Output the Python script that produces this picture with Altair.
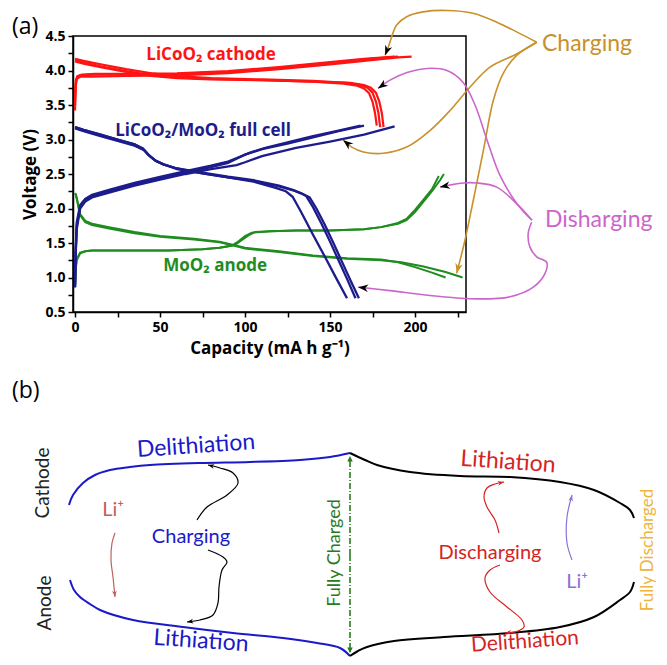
import math
import altair as alt
import pandas as pd

# ---------------- Panel (a): charge / discharge curves ----------------
# LiCoO2 cathode (red)
red_chg1_x = [0, 0.3, 1, 3, 10, 30, 60, 90, 120, 150, 170, 190, 198]
red_chg1_v = [3.42, 3.75, 3.88, 3.91, 3.91, 3.92, 3.93, 3.96, 4.02, 4.09, 4.14, 4.19, 4.20]
red_chg2_x = [0, 0.3, 1.2, 3, 10, 30, 60, 90, 120, 150, 170, 190]
red_chg2_v = [3.50, 3.80, 3.91, 3.93, 3.94, 3.94, 3.95, 3.98, 4.04, 4.11, 4.16, 4.20]
red_chg3_x = [0, 0.5, 1.5, 4, 12, 30, 60, 90, 120, 150, 170, 188]
red_chg3_v = [3.60, 3.86, 3.92, 3.94, 3.95, 3.95, 3.96, 3.99, 4.05, 4.12, 4.17, 4.20]
red_dis1_x = [0, 5, 15, 30, 45, 60, 80, 110, 140, 160, 168, 172, 175, 177, 178.5, 179.5]
red_dis1_v = [4.17, 4.14, 4.09, 4.02, 3.96, 3.92, 3.89, 3.87, 3.85, 3.82, 3.79, 3.75, 3.68, 3.55, 3.38, 3.18]
red_dis2_x = [0, 5, 15, 30, 45, 60, 80, 110, 140, 158, 166, 170, 173, 175, 176.5, 177.5]
red_dis2_v = [4.15, 4.12, 4.06, 3.99, 3.93, 3.90, 3.88, 3.86, 3.84, 3.81, 3.78, 3.74, 3.67, 3.55, 3.38, 3.20]
red_dis3_x = [0, 5, 15, 30, 45, 60, 80, 110, 140, 162, 170, 174, 177, 179, 180.5, 181.5]
red_dis3_v = [4.13, 4.10, 4.05, 3.98, 3.92, 3.89, 3.87, 3.86, 3.84, 3.82, 3.79, 3.75, 3.68, 3.55, 3.38, 3.18]

# LiCoO2/MoO2 full cell (navy)
blue_chg1_x = [0, 0.3, 1, 3, 6, 10, 20, 35, 50, 65, 80, 90, 95, 100, 110, 125, 140, 155, 170]
blue_chg1_v = [0.86, 1.30, 1.75, 2.02, 2.12, 2.18, 2.25, 2.35, 2.44, 2.52, 2.60, 2.66, 2.72, 2.78, 2.86, 2.94, 3.03, 3.12, 3.20]
blue_chg2_x = [0, 0.3, 1, 3, 6, 10, 20, 35, 50, 65, 80, 90, 97, 103, 112, 125, 140, 155, 168]
blue_chg2_v = [0.90, 1.35, 1.80, 2.05, 2.14, 2.20, 2.27, 2.37, 2.46, 2.54, 2.62, 2.68, 2.75, 2.81, 2.88, 2.96, 3.05, 3.13, 3.20]
blue_chg3_x = [0, 0.3, 1, 3, 6, 10, 20, 35, 50, 65, 80, 95, 100, 110, 130, 150, 170, 188]
blue_chg3_v = [0.86, 1.30, 1.70, 2.00, 2.10, 2.16, 2.23, 2.33, 2.42, 2.50, 2.57, 2.63, 2.67, 2.76, 2.88, 2.97, 3.07, 3.19]
blue_dis1_x = [0, 5, 15, 25, 35, 40, 43, 47, 52, 60, 75, 90, 105, 120, 128, 133, 136, 140, 145, 150, 155, 160, 165]
blue_dis1_v = [3.18, 3.14, 3.07, 3.00, 2.93, 2.87, 2.78, 2.70, 2.64, 2.58, 2.52, 2.46, 2.41, 2.33, 2.27, 2.22, 2.18, 2.02, 1.78, 1.52, 1.25, 0.98, 0.70]
blue_dis2_x = [0, 5, 15, 25, 35, 41, 44, 48, 53, 60, 75, 90, 105, 120, 129, 134, 138, 142, 147, 152, 157, 162, 167]
blue_dis2_v = [3.16, 3.12, 3.05, 2.98, 2.91, 2.84, 2.76, 2.68, 2.63, 2.57, 2.51, 2.45, 2.40, 2.32, 2.26, 2.21, 2.16, 2.00, 1.76, 1.50, 1.23, 0.96, 0.70]
blue_dis3_x = [0, 5, 15, 25, 35, 40, 43, 47, 52, 60, 75, 90, 105, 118, 124, 128, 133, 140, 147, 153, 160]
blue_dis3_v = [3.18, 3.14, 3.07, 3.00, 2.93, 2.86, 2.78, 2.70, 2.64, 2.58, 2.51, 2.45, 2.39, 2.30, 2.25, 2.17, 1.95, 1.62, 1.30, 1.02, 0.70]

# MoO2 anode (green)
green_lit1_x = [0, 0.5, 1.5, 3, 6, 10, 20, 35, 50, 70, 85, 92, 100, 120, 140, 160, 180, 190, 200, 210, 218]
green_lit1_v = [2.22, 2.20, 2.10, 1.92, 1.82, 1.78, 1.73, 1.66, 1.60, 1.56, 1.52, 1.48, 1.43, 1.38, 1.32, 1.28, 1.26, 1.22, 1.15, 1.07, 1.00]
green_lit2_x = [0, 0.5, 1.5, 3, 6, 10, 20, 35, 50, 70, 85, 92, 100, 120, 140, 160, 180, 192, 205, 218, 228]
green_lit2_v = [2.22, 2.20, 2.08, 1.90, 1.80, 1.76, 1.71, 1.64, 1.59, 1.55, 1.51, 1.47, 1.42, 1.37, 1.31, 1.27, 1.25, 1.22, 1.16, 1.08, 1.00]
green_del1_x = [0, 0.3, 1, 3, 6, 10, 30, 55, 75, 85, 92, 96, 100, 104, 115, 130, 150, 170, 180, 190, 195, 200, 205, 210, 215, 217]
green_del1_v = [0.86, 1.10, 1.25, 1.35, 1.38, 1.39, 1.39, 1.39, 1.41, 1.43, 1.46, 1.52, 1.60, 1.65, 1.67, 1.68, 1.68, 1.70, 1.73, 1.78, 1.83, 1.95, 2.10, 2.25, 2.42, 2.50]
green_del2_x = [0, 0.3, 1, 3, 6, 10, 30, 55, 75, 85, 94, 98, 102, 106, 115, 130, 150, 170, 180, 190, 195, 200, 205, 210, 214]
green_del2_v = [0.90, 1.12, 1.27, 1.36, 1.38, 1.39, 1.39, 1.39, 1.41, 1.43, 1.47, 1.54, 1.61, 1.66, 1.67, 1.68, 1.68, 1.70, 1.73, 1.79, 1.85, 1.98, 2.13, 2.28, 2.47]

# Annotation arrows of panel (a), in capacity / voltage units
chg_arrow1_x = [271.6, 259.8, 248.1, 234.1, 218.6, 204.7, 195.1, 189.2, 186.3, 184.3, 182.4]
chg_arrow1_v = [4.41, 4.56, 4.70, 4.83, 4.87, 4.85, 4.78, 4.66, 4.49, 4.34, 4.22]
chg_arrow2_x = [271.6, 259.8, 244.1, 232.4, 220.6, 208.8, 195.1, 181.4, 169.6, 162.8, 157.8]
chg_arrow2_v = [4.41, 4.24, 4.05, 3.76, 3.42, 3.13, 2.89, 2.80, 2.82, 2.89, 2.99]
chg_arrow3_x = [271.6, 259.8, 251.9, 246.1, 240.2, 234.3, 229.4, 224.5]
chg_arrow3_v = [4.41, 4.22, 3.96, 3.57, 2.84, 2.12, 1.54, 1.06]
dis_arrow1_x = [268.8, 260.0, 250.0, 242.4, 235.3, 228.2, 218.8, 207.1, 195.3, 185.3, 178.2]
dis_arrow1_v = [1.83, 2.07, 2.48, 2.99, 3.50, 3.83, 4.00, 4.03, 3.97, 3.86, 3.74]
dis_arrow2_x = [268.8, 259.8, 248.1, 236.3, 228.4, 220.6, 214.7]
dis_arrow2_v = [1.83, 2.07, 2.31, 2.37, 2.37, 2.34, 2.31]
dis_arrow3_x = [268.6, 266.6, 267.6, 271.6, 277.5, 276.5, 269.6, 255.9, 236.3, 208.8, 185.3, 166.6]
dis_arrow3_v = [1.80, 1.64, 1.44, 1.30, 1.22, 1.06, 0.86, 0.72, 0.69, 0.74, 0.81, 0.86]

lab_a_text = ["LiCoO₂ cathode", "LiCoO₂/MoO₂ full cell", "MoO₂ anode"]
lab_a_x = [80, 75.3, 82.4]
lab_a_v = [4.22, 3.12, 1.16]

x_ticks = [0, 25, 50, 75, 100, 125, 150, 175, 200, 225]
y_ticks = [0.5, 0.75, 1.0, 1.25, 1.5, 1.75, 2.0, 2.25, 2.5, 2.75, 3.0, 3.25, 3.5, 3.75, 4.0, 4.25, 4.5]

# ---------------- Panel (b): schematic (page-like coordinates) ----------------
cath_chg_x = [69, 73, 83, 95, 110, 130, 150, 200, 250, 300, 330, 350]
cath_chg_y = [505, 495, 483, 475, 470, 467, 465, 463, 462, 460, 457, 453]
anod_chg_x = [70, 74, 80, 90, 100, 133, 183, 233, 283, 317, 340, 350]
anod_chg_y = [580, 590, 597, 604, 610, 620, 627, 633, 638, 643, 648, 656]
cath_dis_x = [350, 365, 377, 410, 460, 510, 560, 594, 620, 630, 634]
cath_dis_y = [453, 460, 465, 472, 476, 477, 482, 490, 503, 510, 518]
anod_dis_x = [350, 358, 367, 394, 444, 510, 560, 594, 620, 630, 634]
anod_dis_y = [656, 651, 647, 641, 637, 633, 627, 617, 600, 592, 582]

wig_up_x = [197, 207, 227, 238, 233, 220, 208]
wig_up_y = [520, 507, 495, 483, 473, 468, 465]
wig_dn_x = [208, 223, 227, 222, 219, 218, 213, 200, 187]
wig_dn_y = [550, 557, 562, 570, 587, 603, 615, 620, 622]
li_left_x = [115, 112, 111, 113, 115]
li_left_y = [533, 543, 560, 577, 597]
red_up_x = [499, 495, 487, 484, 487, 495, 504]
red_up_y = [533, 520, 507, 497, 488, 484, 482]
red_dn_x = [500, 490, 485, 490, 507, 522, 524, 515, 505]
red_dn_y = [565, 570, 578, 592, 607, 620, 627, 632, 633]
li_right_x = [572, 567, 567, 572]
li_right_y = [560, 543, 517, 495]
full_up_x = [350, 350]
full_up_y = [555, 456]
full_dn_x = [350, 350]
full_dn_y = [555, 653]

lab_b_text = ["Cathode", "Anode", "Delithiation", "Charging", "Lithiation", "Li⁺",
              "Lithiation", "Discharging", "Delithiation", "Li⁺"]
lab_b_x = [43, 45, 196, 191, 201, 113, 508, 490, 525, 577]
lab_b_y = [483, 603, 446, 537, 641, 510, 462, 553, 642, 582]

# ---------------- helpers ----------------
XDOM = [-1.2, 230]
YDOM = [0.5, 4.5]
W, H = 393, 276
KX = W / (XDOM[1] - XDOM[0])
KY = H / (YDOM[1] - YDOM[0])
PAD_L, PAD_T = 65, 28

# schematic scales share the plot area's pixel grid (page coordinates)
BX = [73, 73 + W]
BY = [36, 36 + H]

RED, NAVY, GREEN = "#ff1414", "#1c1c8c", "#1f8c1f"
GOLD, ORCHID = "#c8912a", "#cc66cc"
ARROW = "M0,0 L-2,-0.75 L-1.4,0 L-2,0.75 Z"
TRI = "M0,0 L-2,-1 L-2,1 Z"


def lines_df(curves):
    rows = []
    for name, (xs, ys) in curves.items():
        for i, (x, y) in enumerate(zip(xs, ys)):
            rows.append({"s": name, "i": i, "x": x, "y": y})
    return pd.DataFrame(rows)


def heads_df(curves, kx, ky):
    rows = []
    for name, (xs, ys) in curves.items():
        dx = (xs[-1] - xs[-2]) * kx
        dy = (ys[-1] - ys[-2]) * ky
        ang = math.degrees(math.atan2(dy, dx)) % 360
        rows.append({"s": name, "x": xs[-1], "y": ys[-1], "angle": ang})
    return pd.DataFrame(rows)


xs_a = alt.Scale(domain=XDOM, nice=False, zero=False)
ys_a = alt.Scale(domain=YDOM, nice=False, zero=False)

FONT_B = "Open Sans"
x_axis = alt.Axis(
    title="Capacity (mA h g⁻¹)", values=x_ticks,
    labelExpr="datum.value % 50 == 0 ? datum.label : ''",
    grid=False, tickSize=5, tickWidth=1.5, tickColor="black",
    domainColor="black", domainWidth=1.5, labelFlush=False,
    labelFont=FONT_B, labelFontWeight="bold", labelFontSize=14, labelColor="black",
    labelPadding=3, titleFont=FONT_B, titleFontWeight="bold", titleFontSize=17,
    titleColor="black", titlePadding=6)
y_axis = alt.Axis(
    title="Voltage (V)", values=y_ticks,
    labelExpr="datum.value % 0.5 == 0 ? format(datum.value, '.1f') : ''",
    grid=False, tickSize=5, tickWidth=1.5, tickColor="black",
    domainColor="black", domainWidth=1.5, labelFlush=False,
    labelFont=FONT_B, labelFontWeight="bold", labelFontSize=14, labelColor="black",
    labelPadding=3, titleFont=FONT_B, titleFontWeight="bold", titleFontSize=17,
    titleColor="black", titlePadding=5)


def XA():
    return alt.X("x:Q", scale=xs_a, axis=x_axis)


def YA():
    return alt.Y("y:Q", scale=ys_a, axis=y_axis)


red_df = lines_df({"c1": (red_chg1_x, red_chg1_v), "c2": (red_chg2_x, red_chg2_v),
                   "c3": (red_chg3_x, red_chg3_v), "d1": (red_dis1_x, red_dis1_v),
                   "d2": (red_dis2_x, red_dis2_v), "d3": (red_dis3_x, red_dis3_v)})
blue_df = lines_df({"c1": (blue_chg1_x, blue_chg1_v), "c2": (blue_chg2_x, blue_chg2_v),
                    "c3": (blue_chg3_x, blue_chg3_v), "d1": (blue_dis1_x, blue_dis1_v),
                    "d2": (blue_dis2_x, blue_dis2_v), "d3": (blue_dis3_x, blue_dis3_v)})
green_df = lines_df({"l1": (green_lit1_x, green_lit1_v), "l2": (green_lit2_x, green_lit2_v),
                     "d1": (green_del1_x, green_del1_v), "d2": (green_del2_x, green_del2_v)})

gold_curves = {"g1": (chg_arrow1_x, chg_arrow1_v), "g2": (chg_arrow2_x, chg_arrow2_v),
               "g3": (chg_arrow3_x, chg_arrow3_v)}
orchid_curves = {"m1": (dis_arrow1_x, dis_arrow1_v), "m2": (dis_arrow2_x, dis_arrow2_v),
                 "m3": (dis_arrow3_x, dis_arrow3_v)}
gold_df = lines_df(gold_curves)
orchid_df = lines_df(orchid_curves)
black_heads = heads_df({"g1": gold_curves["g1"], "g2": gold_curves["g2"], **orchid_curves}, KX, -KY)
gold_heads = heads_df({"g3": gold_curves["g3"]}, KX, -KY)

lab_a_df = pd.DataFrame({"t": lab_a_text, "x": lab_a_x, "y": lab_a_v,
                         "c": [RED, NAVY, GREEN]})


def curve_layer(df, color, width, interp="linear"):
    return alt.Chart(df).mark_line(color=color, strokeWidth=width, interpolate=interp).encode(
        x=XA(), y=YA(), detail="s:N", order="i:Q")


top_layers = [
    curve_layer(red_df, RED, 2.2),
    curve_layer(green_df, GREEN, 2.0),
    curve_layer(blue_df, NAVY, 2.3),
    alt.Chart(lab_a_df).mark_text(font=FONT_B, fontWeight="bold", fontSize=17).encode(
        x=XA(), y=YA(), text="t:N", color=alt.Color("c:N", scale=None)),
    curve_layer(gold_df, GOLD, 1.6, "catmull-rom"),
    curve_layer(orchid_df, ORCHID, 1.6, "catmull-rom"),
    alt.Chart(black_heads).mark_point(shape=ARROW, filled=True, size=100, color="black",
                                      opacity=1, strokeWidth=0).encode(
        x=XA(), y=YA(), angle=alt.Angle("angle:Q", scale=None)),
    alt.Chart(gold_heads).mark_point(shape=ARROW, filled=True, size=100, color=GOLD,
                                     opacity=1, strokeWidth=0).encode(
        x=XA(), y=YA(), angle=alt.Angle("angle:Q", scale=None)),
    alt.Chart(pd.DataFrame({"t": ["Charging"], "x": [274.7], "y": [4.39]})).mark_text(
        font="Lato", fontSize=23, align="left", baseline="middle", color=GOLD).encode(
        x=XA(), y=YA(), text="t:N"),
    alt.Chart(pd.DataFrame({"t": ["Disharging"], "x": [276.5], "y": [1.83]})).mark_text(
        font="Lato", fontSize=23, align="left", baseline="middle", color=ORCHID).encode(
        x=XA(), y=YA(), text="t:N"),
    alt.Chart(pd.DataFrame({"t": ["(a)"], "x": [-37.1], "y": [4.63]})).mark_text(
        font=FONT_B, fontSize=23, align="left", baseline="middle", color="black").encode(
        x=XA(), y=YA(), text="t:N"),
]
top = alt.layer(*top_layers)

# ---------------- schematic (independent scales) ----------------
xs_b = alt.Scale(domain=BX, nice=False, zero=False)
ys_b = alt.Scale(domain=BY, nice=False, zero=False, reverse=True)


def XB():
    return alt.X("x:Q", scale=xs_b, axis=None)


def YB():
    return alt.Y("y:Q", scale=ys_b, axis=None)


def bcurve(curves, color, width, dash=None):
    kw = dict(color=color, strokeWidth=width, interpolate="catmull-rom")
    if dash:
        kw["strokeDash"] = dash
    return alt.Chart(lines_df(curves)).mark_line(**kw).encode(
        x=XB(), y=YB(), detail="s:N", order="i:Q")


def bheads(curves, color, size, shape=ARROW):
    return alt.Chart(heads_df(curves, 1, 1)).mark_point(
        shape=shape, filled=True, size=size, color=color, opacity=1, strokeWidth=0).encode(
        x=XB(), y=YB(), angle=alt.Angle("angle:Q", scale=None))


BLUE_B = "#1a1ac8"
RED_B = "#d42424"
BROWN_B = "#c0605a"
PURP_B = "#8a70dc"
GREEN_B = "#2a7a1e"
ORANGE_B = "#f0b43c"

wig = {"u": (wig_up_x, wig_up_y), "d": (wig_dn_x, wig_dn_y)}
redw = {"u": (red_up_x, red_up_y), "d": (red_dn_x, red_dn_y)}
full = {"u": (full_up_x, full_up_y), "d": (full_dn_x, full_dn_y)}

lab_b_df = pd.DataFrame({
    "t": lab_b_text, "x": lab_b_x, "y": lab_b_y,
    "c": ["#222222", "#222222", BLUE_B, BLUE_B, BLUE_B, BROWN_B, RED_B, RED_B, RED_B, PURP_B],
    "fs": [19, 19, 23, 20, 23, 20, 23, 20, 21, 20],
    "a": [270, 270, 356, 0, 4, 0, 4, 0, 356, 0],
})
rot_df = pd.DataFrame({"t": ["Fully Charged", "Fully Discharged"], "x": [335, 648],
                       "y": [553, 550], "c": [GREEN_B, ORANGE_B], "fs": [18, 17]})

bottom_layers = [
    bcurve({"a": (cath_chg_x, cath_chg_y), "b": (anod_chg_x, anod_chg_y)}, BLUE_B, 2),
    bcurve({"a": (cath_dis_x, cath_dis_y), "b": (anod_dis_x, anod_dis_y)}, "black", 2),
    bcurve(full, GREEN_B, 1.6, [6, 2, 1, 2]),
    bheads(full, GREEN_B, 30, TRI),
    bcurve(wig, "black", 1.2),
    bheads(wig, "black", 40),
    bcurve(redw, RED_B, 1.2),
    bheads(redw, RED_B, 40),
    bcurve({"l": (li_left_x, li_left_y)}, BROWN_B, 1.2),
    bheads({"l": (li_left_x, li_left_y)}, BROWN_B, 40),
    bcurve({"r": (li_right_x, li_right_y)}, PURP_B, 1.2),
    bheads({"r": (li_right_x, li_right_y)}, PURP_B, 40),
    alt.Chart(lab_b_df).mark_text(font="Lato", baseline="middle").encode(
        x=XB(), y=YB(), text="t:N", color=alt.Color("c:N", scale=None),
        size=alt.Size("fs:Q", scale=None), angle=alt.Angle("a:Q", scale=None)),
    alt.Chart(rot_df).mark_text(font="Lato", angle=270, baseline="middle").encode(
        x=XB(), y=YB(), text="t:N", color=alt.Color("c:N", scale=None),
        size=alt.Size("fs:Q", scale=None)),
    alt.Chart(pd.DataFrame({"t": ["(b)"], "x": [12], "y": [391]})).mark_text(
        font=FONT_B, fontSize=23, align="left", baseline="middle", color="black").encode(
        x=XB(), y=YB(), text="t:N"),
]
bottom = alt.layer(*bottom_layers)

chart = alt.layer(top, bottom).resolve_scale(
    x="independent", y="independent"
).properties(
    width=W, height=H,
    autosize=alt.AutoSizeParams(type="none"),
    padding={"left": PAD_L, "top": PAD_T, "right": 651 - PAD_L - W, "bottom": 649 - PAD_T - H},
).configure_view(stroke="black", strokeWidth=1.5)

chart.save("out.html", embed_options={"renderer": "svg", "actions": False})
